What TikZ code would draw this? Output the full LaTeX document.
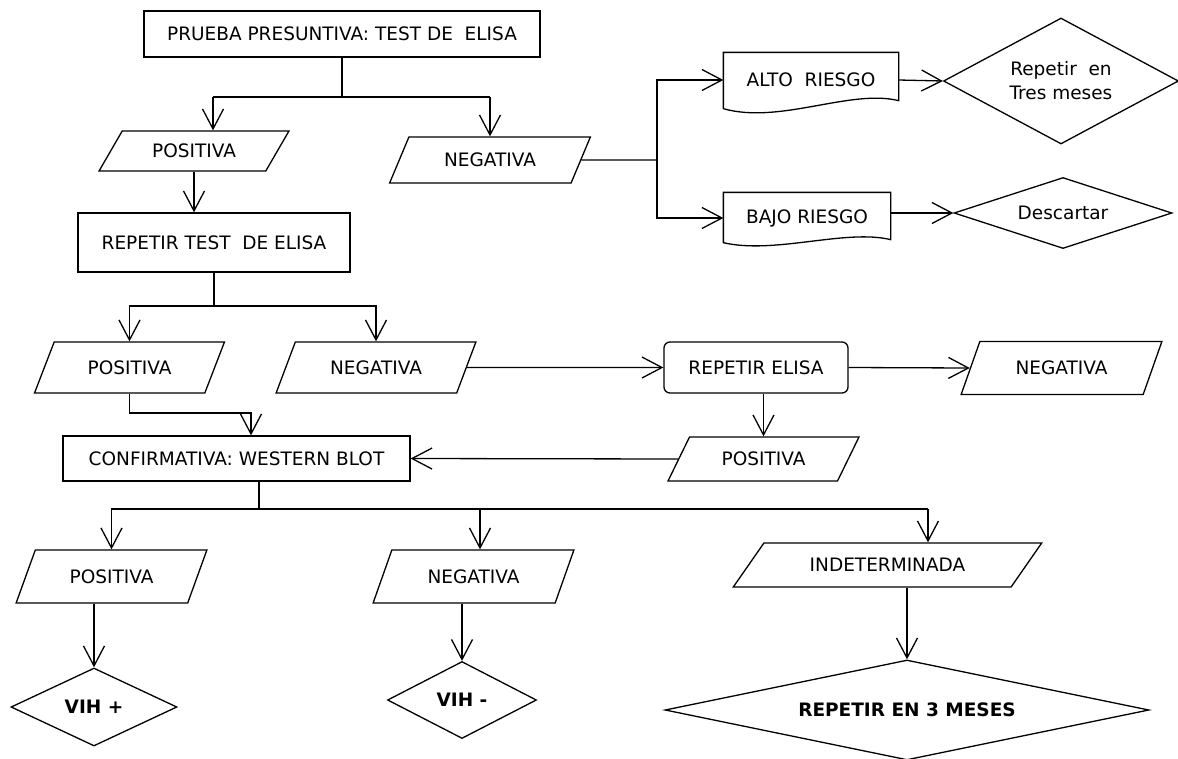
\documentclass[tikz,border=0pt]{standalone}
\usepackage{fontspec}
\setmainfont{DejaVu Sans}
\usetikzlibrary{shapes.geometric,arrows.meta}
\tikzset{
  box/.style={draw, rectangle, inner sep=0pt, align=center},
  io/.style={draw, trapezium, trapezium left angle=#1, trapezium right angle={180-#1}, trapezium stretches=true, inner sep=0pt},
  dec/.style={draw, diamond, aspect=2, inner sep=0pt, align=center},
  doc/.style={rectangle, inner sep=0pt}
}
\begin{document}
\begin{tikzpicture}[x=1pt,y=-1pt,line width=1.3pt,>={Straight Barb[length=20pt,width=21pt]},font=\fontsize{18.5}{24}\selectfont]
\useasboundingbox (0,0) rectangle (1178,758);
\node[box, minimum width=396pt, minimum height=46pt] (prueba) at (342,34) {PRUEBA PRESUNTIVA: TEST DE\ \ ELISA};
\node[io=46, minimum width=190pt, minimum height=40pt] (pos1) at (194,151) {POSITIVA};
\node[io=52, minimum width=201pt, minimum height=46pt] (neg1) at (490,160) {NEGATIVA};
\node[doc, minimum width=174pt, minimum height=54pt] (alto) at (811,80) {ALTO\ \ RIESGO};
\node[doc, minimum width=166pt, minimum height=50pt] (bajo) at (807,218) {BAJO RIESGO};
\node[dec, aspect=1.9, minimum width=235pt, minimum height=126pt] (rep3) at (1061,81) {Repetir\ \ en\\Tres meses};
\node[dec, aspect=3, minimum width=218pt, minimum height=71pt] (desc) at (1063,213) {Descartar};
\node[box, minimum width=272pt, minimum height=59pt] (rtest) at (214,242.5) {REPETIR TEST\ \ DE ELISA};
\node[io=52, minimum width=190pt, minimum height=51pt] (pos2) at (129.5,367.5) {POSITIVA};
\node[io=52, minimum width=200pt, minimum height=51pt] (neg2) at (376,367.5) {NEGATIVA};
\node[box, rounded corners=6pt, minimum width=184pt, minimum height=51pt] (relisa) at (756,367.5) {REPETIR ELISA};
\node[io=53, minimum width=201pt, minimum height=53pt] (neg4) at (1061.5,368) {NEGATIVA};
\node[io=49, minimum width=191pt, minimum height=44pt] (pos3) at (763.5,459) {POSITIVA};
\node[box, minimum width=347pt, minimum height=45pt] (conf) at (236.5,458.5) {CONFIRMATIVA: WESTERN BLOT};
\node[io=53, minimum width=191pt, minimum height=53pt] (pos4) at (111.5,576.5) {POSITIVA};
\node[io=53, minimum width=201pt, minimum height=53pt] (neg3) at (473.5,576.5) {NEGATIVA};
\node[io=35, minimum width=309pt, minimum height=44pt] (indet) at (887.5,565) {INDETERMINADA};
\node[dec, minimum width=166pt, minimum height=78pt] (vihp) at (94,707) {\textbf{VIH +}};
\node[dec, minimum width=149pt, minimum height=77pt] (vihn) at (462,700) {\textbf{VIH -}};
\node[dec, aspect=4.8, minimum width=484pt, minimum height=100pt] (rep3m) at (907,710) {\textbf{REPETIR EN 3 MESES}};
\draw (alto.north west) -- (alto.north east) -- ([yshift=7pt]alto.south east) .. controls +(-48,-12) and +(56,16) .. ([yshift=-1pt]alto.south west) -- cycle;
\draw (bajo.north west) -- (bajo.north east) -- ([yshift=4pt]bajo.south east) .. controls +(-45,-11) and +(51,12) .. ([yshift=1pt]bajo.south west) -- cycle;
\coordinate (j1) at (342,97);
\coordinate (j2) at (213,97);
\coordinate (j3) at (490,97);
\draw (prueba.south) -- (j1);
\draw (j2) -- (j3);
\draw[->] (j2) -- (j2 |- pos1.north);
\draw[->] (j3) -- (j3 |- neg1.north);
\coordinate (j4) at (657,160);
\draw (neg1.east) -- (j4);
\draw[->] (j4) |- (alto.west);
\draw[->] (j4) |- (bajo.west);
\draw[->] (alto.east) -- (rep3.west);
\draw[->] (bajo.east |- desc.west) -- (desc.west);
\draw[->] (pos1.south) -- (pos1.south |- rtest.north);
\coordinate (j5) at (214,306);
\draw (rtest.south) -- (j5);
\draw[->] (j5) -| (pos2.north);
\draw[->] (j5) -| (neg2.north);
\draw[->] (neg2.east) -- (relisa.west);
\draw[->] (relisa.east) -- (neg4.west);
\draw[->] (relisa.south -| pos3.north) -- (pos3.north);
\draw[->] (pos3.west) -- (conf.east);
\coordinate (j6) at (251,413);
\draw[->] (pos2.south) |- (j6) -- (j6 |- conf.north);
\coordinate (j7) at (259,509);
\coordinate (j8) at (480,509);
\coordinate (j9) at (928,509);
\draw (j7 |- conf.south) -- (j7);
\draw[->] (j7) -| (pos4.north);
\draw (j7) -- (j9);
\draw[->] (j8) -- (j8 |- neg3.north);
\draw[->] (j9) -- (j9 |- indet.north);
\draw[->] (vihp.north |- pos4.south) -- (vihp.north);
\draw[->] (vihn.north |- neg3.south) -- (vihn.north);
\draw[->] (rep3m.north |- indet.south) -- (rep3m.north);
\end{tikzpicture}
\end{document}
